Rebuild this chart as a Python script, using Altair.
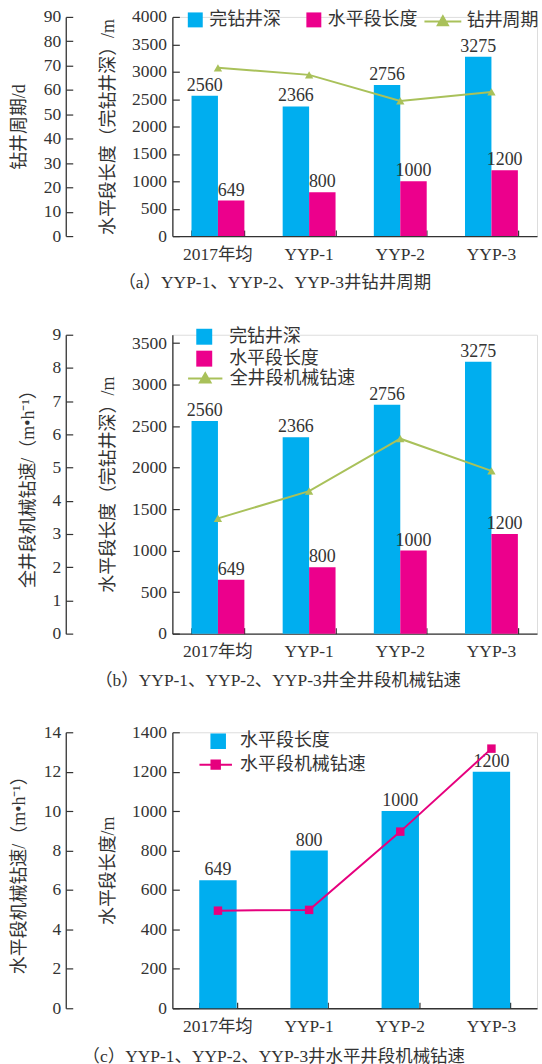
import altair as alt
import pandas as pd

# ---------------- data ----------------
cats = ["2017年均", "YYP-1", "YYP-2", "YYP-3"]
depth = [2560, 2366, 2756, 3275]          # 完钻井深 / m
hlen = [649, 800, 1000, 1200]             # 水平段长度 / m
cycle = [69.1, 66.2, 55.5, 59.2]          # 钻井周期 / d
rop_all = [3.47, 4.29, 5.87, 4.90]        # 全井段机械钻速 / (m/h)
rop_h = [4.95, 4.99, 8.96, 13.17]         # 水平段机械钻速 / (m/h)

ticks_a_primary = [0, 500, 1000, 1500, 2000, 2500, 3000, 3500, 4000]
ticks_a_outer = [0, 10, 20, 30, 40, 50, 60, 70, 80, 90]
ticks_b_primary = [0, 500, 1000, 1500, 2000, 2500, 3000, 3500]
ticks_b_outer = [0, 1, 2, 3, 4, 5, 6, 7, 8, 9]
ticks_c_primary = [0, 200, 400, 600, 800, 1000, 1200, 1400]
ticks_c_outer = [0, 2, 4, 6, 8, 10, 12, 14]

S_DEPTH = "完钻井深"
S_HLEN = "水平段长度"

# ---------------- style ----------------
FONT = "Liberation Serif, Noto Sans CJK SC, sans-serif"
TXT = "#333333"
AX = "#333333"
BLUE = "#00aeef"
MAG = "#ec008c"
GREEN = "#a9c15a"
MAG2 = "#e6007e"
W = 366
OUTER = 107
TRI_A = "M-2,0H2M-0.55,0.42L0,-0.55L0.55,0.42Z"
TRI_B = "M-2,0H2M-0.62,0.47L0,-0.62L0.62,0.47Z"
SQ_C = "M-2,0H2M-0.52,-0.52H0.52V0.52H-0.52Z"


def bars_frame(series_list):
    rows = []
    for name, vals in series_list:
        for c, v in zip(cats, vals):
            rows.append({"cat": c, "series": name, "value": v})
    return pd.DataFrame(rows)


def line_frame(name, vals):
    return pd.DataFrame({"cat": cats, "name": [name] * len(cats), "v": vals})


def panel(h, series_list, colors, y_dom, y_vals, y_title,
          lname, lvals, lcolor, l_dom, l_vals, l_title, shape, msize, lsym, lsize,
          pi, po, leg1, leg2, caption, cap_offset):
    bdf = bars_frame(series_list)
    ldf = line_frame(lname, lvals)
    order = [s for s, _ in series_list]
    xs = alt.Scale(domain=cats, paddingInner=pi, paddingOuter=po)
    extra = {}
    if len(order) > 1:
        extra["xOffset"] = alt.XOffset(
            "series:N", sort=order,
            scale=alt.Scale(domain=order, paddingInner=0, paddingOuter=0))
    yb = alt.Scale(domain=y_dom, nice=False, zero=True)
    yl = alt.Scale(domain=l_dom, nice=False, zero=True)

    bars = alt.Chart(bdf).mark_bar().encode(
        x=alt.X("cat:N", sort=cats, scale=xs,
                axis=alt.Axis(title=None, ticks=False, tickSize=0, domain=True,
                              domainColor=AX, domainWidth=1.3, labelAngle=0,
                              labelFont=FONT, labelFontSize=17.5, labelColor=TXT,
                              labelPadding=9)),
        y=alt.Y("value:Q", scale=yb,
                axis=alt.Axis(title=y_title, values=y_vals, format="d", ticks=False,
                              tickSize=0, grid=False, domainColor=AX, domainWidth=1.3,
                              labelFont=FONT, labelFontSize=17.5, labelColor=TXT,
                              labelPadding=6, titleFont=FONT, titleFontSize=18,
                              titleFontWeight="normal", titleColor=TXT,
                              titlePadding=14)),
        color=alt.Color("series:N", sort=order,
                        scale=alt.Scale(domain=order, range=colors),
                        legend=alt.Legend(**leg1)),
        **extra,
    )
    labels = alt.Chart(bdf).mark_text(
        baseline="alphabetic", dy=-5, font=FONT, fontSize=18, color=TXT
    ).encode(
        x=alt.X("cat:N", sort=cats, scale=xs, axis=None),
        y=alt.Y("value:Q", scale=yb, axis=None),
        text=alt.Text("value:Q", format="d"),
        **extra,
    )
    line = alt.Chart(ldf).mark_line(
        strokeWidth=2,
        point=alt.OverlayMarkDef(shape=shape, size=msize, filled=True, color=lcolor, opacity=1),
    ).encode(
        x=alt.X("cat:N", sort=cats, scale=xs, axis=None),
        y=alt.Y("v:Q", scale=yl,
                axis=alt.Axis(orient="left", offset=OUTER, title=l_title, values=l_vals,
                              format="d", ticks=False, tickSize=0, grid=False,
                              domainColor=AX, domainWidth=1.3, labelFont=FONT,
                              labelFontSize=17.5, labelColor=TXT, labelPadding=5,
                              titleFont=FONT, titleFontSize=18,
                              titleFontWeight="normal", titleColor=TXT,
                              titlePadding=15)),
        color=alt.Color("name:N", scale=alt.Scale(domain=[lname], range=[lcolor]),
                        legend=alt.Legend(symbolType=lsym, symbolSize=lsize,
                                          symbolStrokeWidth=2, symbolFillColor=lcolor,
                                          symbolStrokeColor=lcolor, **leg2)),
    )
    tk1 = alt.Chart(bdf).mark_point(opacity=0).encode(
        x=alt.X("cat:N", sort=cats, scale=xs,
                axis=alt.Axis(orient="top", offset=-h, labels=False, domain=False,
                              ticks=True, tickBand="extent", tickSize=6, tickColor=AX,
                              tickWidth=1.2, title=None, grid=False)),
        y=alt.Y("value:Q", scale=yb,
                axis=alt.Axis(orient="right", offset=-W, labels=False, domain=False,
                              ticks=True, tickSize=7, tickColor=AX, tickWidth=1.2,
                              values=y_vals, title=None, grid=False)),
    )
    tk2 = alt.Chart(ldf).mark_point(opacity=0).encode(
        x=alt.X("cat:N", sort=cats, scale=xs, axis=None),
        y=alt.Y("v:Q", scale=yl,
                axis=alt.Axis(orient="right", offset=-(W + OUTER), labels=False,
                              domain=False, ticks=True, tickSize=7, tickColor=AX,
                              tickWidth=1.2, values=l_vals, title=None, grid=False)),
    )
    return (
        alt.layer(bars, labels, line, tk1, tk2)
        .resolve_scale(y="independent", color="independent")
        .resolve_axis(x="independent")
        .properties(
            width=W, height=h,
            title=alt.TitleParams(text=caption, orient="bottom", anchor="middle",
                                  frame="bounds", font=FONT, fontSize=17.5,
                                  fontWeight="normal", color=TXT, offset=cap_offset),
        )
    )


def leg(**kw):
    base = dict(orient="none", title=None, labelFont=FONT, labelFontSize=18,
                labelColor=TXT, padding=0)
    base.update(kw)
    return base


pa = panel(
    220, [(S_DEPTH, depth), (S_HLEN, hlen)], [BLUE, MAG], [0, 4000], ticks_a_primary,
    "水平段长度（完钻井深）/m",
    "钻井周期", cycle, GREEN, [0, 90], ticks_a_outer, "钻井周期/d",
    "triangle-up", 70, TRI_A, 342, 0.42, 0.21,
    leg(legendX=14, legendY=-6, direction="horizontal", symbolType="square",
        symbolSize=225, symbolStrokeWidth=0, labelOffset=5, columnPadding=24),
    leg(legendX=261, legendY=-6, labelOffset=13.5),
    "（a）YYP-1、YYP-2、YYP-3井钻井周期", 12,
)

pb = panel(
    300, [(S_DEPTH, depth), (S_HLEN, hlen)], [BLUE, MAG], [0, 3600], ticks_b_primary,
    "水平段长度（完钻井深）/m",
    "全井段机械钻速", rop_all, GREEN, [0, 9], ticks_b_outer, "全井段机械钻速/（m•h⁻¹）",
    "triangle-up", 70, TRI_B, 296, 0.42, 0.21,
    leg(legendX=23, legendY=-7, direction="vertical", symbolType="square",
        symbolSize=256, symbolStrokeWidth=0, labelOffset=16, rowPadding=4),
    leg(legendX=23, legendY=34, labelOffset=14.5),
    "（b）YYP-1、YYP-2、YYP-3井全井段机械钻速", 12,
)

pc = panel(
    277, [(S_HLEN, hlen)], [BLUE], [0, 1400], ticks_c_primary,
    "水平段长度/m",
    "水平段机械钻速", rop_h, MAG2, [0, 14], ticks_c_outer, "水平段机械钻速/（m•h⁻¹）",
    "square", 72, SQ_C, 266, 0.59, 0.295,
    leg(legendX=37, legendY=0, direction="vertical", symbolType="square",
        symbolSize=243, symbolStrokeWidth=0, labelOffset=13),
    leg(legendX=34, legendY=23, labelOffset=15),
    "（c）YYP-1、YYP-2、YYP-3井水平井段机械钻速", 13,
)

chart = (
    alt.vconcat(pa, pb, pc, spacing=32)
    .properties(padding={"left": 10, "top": 5, "right": 2, "bottom": 2})
    .configure_view(stroke=None)
    .configure(background="white")
)

chart.save("out.html", embed_options={"renderer": "svg", "actions": False})
